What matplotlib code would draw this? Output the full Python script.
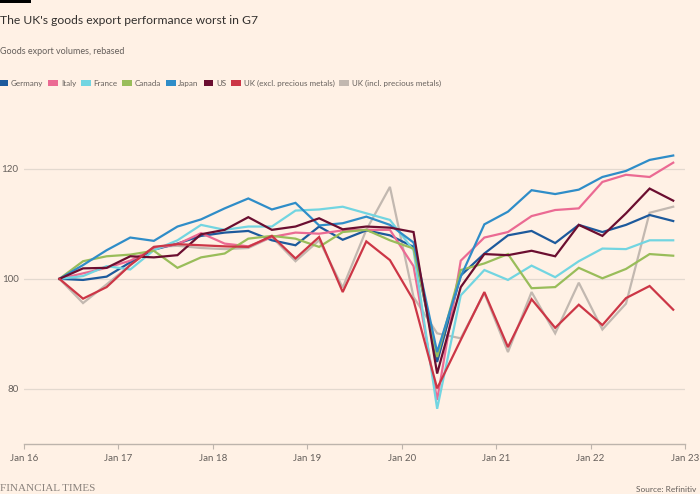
import pandas as pd
import matplotlib.pyplot as plt
from matplotlib.patches import Patch, Rectangle

# quarterly, Q2 2016 = 100
quarters = pd.period_range("2016Q2", "2022Q4", freq="Q")

germany = [100, 99.8, 100.4, 103.0, 105.3, 106.4, 107.8, 108.4, 108.7, 107.0, 106.1, 109.5, 107.1, 108.8,
           107.9, 105.8, 84.9, 100.6, 104.6, 107.9, 108.7, 106.5, 109.8, 108.5, 109.8, 111.6, 110.5]
italy = [100, 101.0, 102.0, 103.3, 105.5, 106.3, 108.3, 106.4, 105.9, 107.6, 108.4, 108.2, 108.8, 108.9,
         108.9, 102.3, 78.0, 103.3, 107.5, 108.5, 111.4, 112.5, 112.8, 117.6, 118.9, 118.5, 121.1]
france = [100, 100.5, 102.3, 101.7, 105.2, 107.0, 109.8, 108.9, 109.5, 109.5, 112.4, 112.6, 113.1, 111.9,
          110.7, 105.2, 76.4, 97.0, 101.6, 99.8, 102.4, 100.3, 103.2, 105.5, 105.4, 107.0, 107.0]
canada = [100, 103.2, 104.1, 104.4, 105.1, 102.0, 103.9, 104.6, 107.3, 107.8, 107.3, 105.8, 108.5, 108.9,
          107.0, 105.5, 85.8, 101.6, 102.8, 104.5, 98.3, 98.5, 102.0, 100.1, 101.8, 104.5, 104.2]
japan = [100, 102.5, 105.2, 107.5, 106.9, 109.5, 110.8, 112.8, 114.6, 112.6, 113.8, 109.7, 110.1, 111.3,
         109.8, 106.6, 86.7, 100.4, 109.9, 112.2, 116.1, 115.4, 116.2, 118.5, 119.6, 121.6, 122.4]
us = [100, 101.9, 102.0, 104.1, 103.9, 104.3, 108.1, 108.9, 111.2, 108.9, 109.5, 111.0, 109.0, 109.5,
      109.3, 108.5, 82.8, 98.5, 104.5, 104.3, 105.1, 104.1, 109.8, 107.8, 111.9, 116.4, 114.2]
uk_excl = [100, 96.4, 98.5, 102.5, 105.8, 106.3, 106.1, 105.9, 105.8, 107.8, 103.7, 107.6, 97.6, 106.8,
           103.4, 96.1, 80.1, 88.9, 97.6, 87.6, 96.3, 91.1, 95.3, 91.6, 96.5, 98.7, 94.4]
uk_incl = [100, 95.6, 99.0, 102.5, 105.8, 106.0, 105.6, 105.4, 105.6, 107.6, 103.2, 107.0, 98.4, 108.9,
           116.7, 96.7, 90.1, 89.2, 97.4, 86.7, 97.6, 90.1, 99.3, 90.8, 95.5, 112.0, 113.1]

series = [
    ("Germany", germany, "#1d5a9c"),
    ("Italy", italy, "#eb6a93"),
    ("France", france, "#72d5e1"),
    ("Canada", canada, "#99bd5a"),
    ("Japan", japan, "#2f8dc8"),
    ("US", us, "#6b0e30"),
    ("UK (excl. precious metals)", uk_excl, "#cc3646"),
    ("UK (incl. precious metals)", uk_incl, "#c2b8b0"),
]

year_ticks = list(range(2016, 2024))
year_labels = [f"Jan {y % 100}" for y in year_ticks]

BG = "#fff1e5"
GREY = "#66605c"
plt.rcParams["font.family"] = ["Lato", "DejaVu Sans"]

# x position = middle of each quarter, in decimal years
x = [q.year + (q.quarter - 1) * 0.25 + 0.125 for q in quarters]

fig = plt.figure(figsize=(7, 4.94), dpi=100, facecolor=BG)
ax = fig.add_axes([0.0343, 0.1012, 0.9443, 0.6464], facecolor=BG)

for isim, vals, renk in series:
    z = 3
    if isim.startswith("UK (incl"):
        z = 2.5
    elif isim.startswith("UK (excl"):
        z = 3.5
    ax.plot(x, vals, color=renk, lw=1.6, zorder=z, solid_joinstyle="miter")

ax.set_xlim(2016, 2023)
ax.set_ylim(70, 128)
ax.set_yticks([80, 100, 120])
ax.set_xticks(year_ticks)
ax.set_xticklabels(year_labels)
ax.grid(axis="y", color="#e3d9cf", lw=0.9)
ax.set_axisbelow(True)
for s in ["top", "right", "left"]:
    ax.spines[s].set_visible(False)
ax.spines["bottom"].set_color("#bdb4ac")
ax.spines["bottom"].set_linewidth(1)
ax.tick_params(axis="y", length=0, pad=4, labelsize=7, labelcolor=GREY)
ax.tick_params(axis="x", length=3.5, width=0.8, color="#bdb4ac", pad=4,
               labelsize=7, labelcolor=GREY)

# title block
fig.add_artist(Rectangle((0, 1 - 3 / 494), 31 / 700, 3 / 494, transform=fig.transFigure,
                         color="black", lw=0))
fig.text(0.0, 1 - 20 / 494, "The UK's goods export performance worst in G7", fontsize=8.7,
         color="#33302e", va="center", ha="left")
fig.text(0.0, 1 - 51 / 494, "Goods export volumes, rebased", fontsize=6.5,
         color=GREY, va="center", ha="left")

handles = [Patch(facecolor=c, edgecolor="none", label=n) for n, _, c in series]
fig.legend(handles=handles, loc="center left", bbox_to_anchor=(-0.002, 1 - 83.5 / 494),
           ncol=8, frameon=False, handlelength=1.2, handleheight=0.8, handletextpad=0.35,
           columnspacing=0.6, borderpad=0, borderaxespad=0,
           prop={"size": 5.8}, labelcolor=GREY)

fig.text(0.0, 1 - 488 / 494, "FINANCIAL TIMES", fontsize=8, family="Liberation Serif",
         color="#8a827c", va="center", ha="left")
fig.text(0.995, 1 - 489 / 494, "Source: Refinitiv", fontsize=6, color=GREY,
         va="center", ha="right")

fig.savefig("out.png", dpi=100, facecolor=BG)
